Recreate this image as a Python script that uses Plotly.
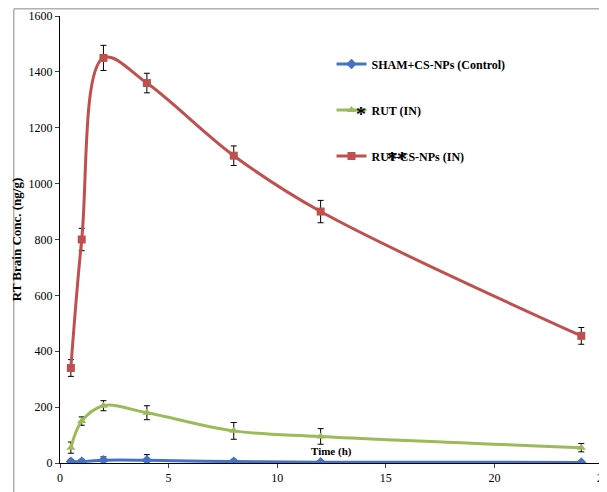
import plotly.graph_objects as go

time_h = [0.5, 1, 2, 4, 8, 12, 24]
sham = [5, 5, 10, 10, 5, 3, 2]
sham_err = [8, 8, 12, 20, 8, 6, 5]
rut = [55, 150, 205, 180, 115, 95, 55]
rut_err = [20, 15, 18, 25, 30, 28, 15]
rut_np = [340, 800, 1450, 1360, 1100, 900, 455]
rut_np_err = [30, 40, 45, 35, 35, 40, 30]

series = [
    ("SHAM+CS-NPs (Control)", sham, sham_err, "#4472C4", "diamond"),
    ("RUT (IN)", rut, rut_err, "#9BBB59", "triangle-up"),
    ("RUT-CS-NPs (IN)", rut_np, rut_np_err, "#C0504D", "square"),
]

fig = go.Figure()
for i, (name, vals, err, col, sym) in enumerate(series):
    fig.add_trace(go.Scatter(
        x=time_h, y=vals, name=name, mode="lines+markers",
        line=dict(color=col, width=3, shape="spline", smoothing=1.0),
        marker=dict(symbol=sym, size=8, color=col),
        error_y=dict(type="data", array=err, color="black", thickness=1, width=3),
        legendgroup=str(i),
    ))

fig.update_layout(
    width=607, height=492,
    margin=dict(l=52, r=12, t=8, b=37, autoexpand=False),
    plot_bgcolor="white", paper_bgcolor="white",
    font=dict(family="Liberation Serif", color="black", size=12),
    showlegend=True,
    legend=dict(x=0.5, y=0.925, xanchor="left", yanchor="top",
                tracegroupgap=27, bgcolor="rgba(0,0,0,0)",
                font=dict(size=12, family="Liberation Serif", weight="bold")),
    xaxis=dict(range=[0, 25], dtick=5, showline=True, linecolor="black",
               ticks="outside", ticklen=4, showgrid=False, zeroline=False,
               automargin=False),
    yaxis=dict(range=[0, 1600], dtick=200, showline=True, linecolor="black",
               ticks="outside", ticklen=4, showgrid=False, zeroline=False,
               automargin=False,
               title=dict(text="<b>RT Brain Conc. (ng/g)</b>", standoff=4,
                          font=dict(size=13))),
    annotations=[
        dict(x=12.5, y=0, yshift=12, text="<b>Time (h)</b>", showarrow=False,
             xref="x", yref="y", font=dict(size=11)),
        dict(x=0.555, y=0.81, xref="paper", yref="paper", text="<b>*</b>",
             showarrow=False, font=dict(size=20)),
        dict(x=0.62, y=0.71, xref="paper", yref="paper", text="<b>**</b>",
             showarrow=False, font=dict(size=20)),
    ],
    shapes=[dict(type="rect", xref="paper", yref="paper", x0=-0.085, y0=-0.075,
                 x1=1.018, y1=1.016, line=dict(color="#888", width=1))],
)

fig.write_html("out.html")
